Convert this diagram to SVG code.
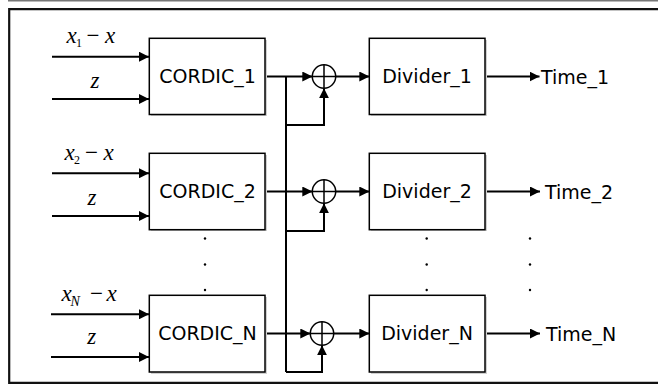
<svg xmlns="http://www.w3.org/2000/svg" width="658" height="385" viewBox="0 0 658 385">
<defs>
<marker id="arr" viewBox="0 0 10 10" refX="10" refY="5" markerWidth="10" markerHeight="10" markerUnits="userSpaceOnUse" orient="auto">
<path d="M0,0 L10,5 L0,10 z" fill="#000"/>
</marker>
<style>
.box{fill:#fff;stroke:#000;stroke-width:1.5}
.sh{fill:#d0d0d0;stroke:none}
.lbl{font-family:"DejaVu Sans",sans-serif;font-size:19px;fill:#000}
.mth{font-family:"Liberation Serif","Times New Roman",serif;font-size:23px;fill:#000}
.it{font-style:italic}
.ln{fill:none;stroke:#000;stroke-width:2}
.ar{fill:none;stroke:#000;stroke-width:2;marker-end:url(#arr)}
.sum{fill:#fff;stroke:#000;stroke-width:1.5}
.frame{fill:none;stroke:#111;stroke-width:2.2}
.dot{fill:#000}
</style>
</defs>
<rect x="0" y="0" width="658" height="385" fill="#fff"/>
<line x1="8" y1="0.7" x2="658" y2="0.7" stroke="#777" stroke-width="1.5"/>
<path class="frame" d="M658,9.2 H9.2 V382.8 H658"/>

<g id="connectors">
<line class="ar" x1="52" y1="56.7" x2="149" y2="56.7"/>
<line class="ar" x1="52" y1="99" x2="149" y2="99"/>
<line class="ar" x1="52" y1="173.3" x2="149" y2="173.3"/>
<line class="ar" x1="52" y1="216" x2="149" y2="216"/>
<line class="ar" x1="51" y1="314.3" x2="149" y2="314.3"/>
<line class="ar" x1="51" y1="357" x2="149" y2="357"/>

<line class="ar" x1="265" y1="76.5" x2="312.3" y2="76.5"/>
<line class="ar" x1="265" y1="191.5" x2="312.3" y2="191.5"/>
<line class="ar" x1="265" y1="333.5" x2="310.3" y2="333.5"/>

<line class="ln" x1="286" y1="76.5" x2="286" y2="372"/>
<path class="ar" d="M286,125 H324 V88.2"/>
<path class="ar" d="M286,231 H324 V203.2"/>
<path class="ar" d="M286,372 H322 V345.2"/>

<line class="ar" x1="335.7" y1="76.5" x2="369.3" y2="76.5"/>
<line class="ar" x1="335.7" y1="191.5" x2="369.3" y2="191.5"/>
<line class="ar" x1="333.7" y1="333.5" x2="369.3" y2="333.5"/>

<line class="ar" x1="485" y1="76.5" x2="539.5" y2="76.5"/>
<line class="ar" x1="485" y1="191.5" x2="540" y2="191.5"/>
<line class="ar" x1="485" y1="333.5" x2="540" y2="333.5"/>
</g>

<g id="labels-in">
<text class="mth" y="43.3"><tspan class="it" x="66.5">x</tspan><tspan font-size="12" x="76" dy="4">1</tspan><tspan x="86.5" dy="-4">−</tspan><tspan class="it" x="105">x</tspan></text>
<text class="mth it" x="95" y="87.5" text-anchor="middle">z</text>
<text class="mth" y="160"><tspan class="it" x="64.5">x</tspan><tspan font-size="12" x="74" dy="4">2</tspan><tspan x="85" dy="-4">−</tspan><tspan class="it" x="103.5">x</tspan></text>
<text class="mth it" x="92" y="204.5" text-anchor="middle">z</text>
<text class="mth" y="300.5"><tspan class="it" x="61.5">x</tspan><tspan class="it" font-size="14" x="70.5" dy="5">N</tspan><tspan x="90" dy="-5">−</tspan><tspan class="it" x="106.5">x</tspan></text>
<text class="mth it" x="91.7" y="343.8" text-anchor="middle">z</text>
</g>

<g id="cordic1">
<rect class="sh" x="151" y="40" width="116" height="76"/>
<rect class="box" x="149.3" y="38.3" width="115.7" height="76.2"/>
<text class="lbl" x="207.5" y="83.4" text-anchor="middle">CORDIC_1</text>
</g>
<g id="cordic2">
<rect class="sh" x="151" y="155" width="116" height="76"/>
<rect class="box" x="149.3" y="153.3" width="115.7" height="76.4"/>
<text class="lbl" x="207.5" y="198.4" text-anchor="middle">CORDIC_2</text>
</g>
<g id="cordicN">
<rect class="sh" x="151" y="297" width="116" height="77"/>
<rect class="box" x="149.3" y="295.3" width="115.7" height="76.7"/>
<text class="lbl" x="207.5" y="340.4" text-anchor="middle">CORDIC_N</text>
</g>

<g id="sum1">
<circle class="sum" cx="324" cy="76.5" r="11.7"/>
<path class="ln" style="stroke-width:1.5" d="M312.3,76.5 H335.7 M324,64.8 V88.2"/>
</g>
<g id="sum2">
<circle class="sum" cx="324" cy="191.5" r="11.7"/>
<path class="ln" style="stroke-width:1.5" d="M312.3,191.5 H335.7 M324,179.8 V203.2"/>
</g>
<g id="sumN">
<circle class="sum" cx="322" cy="333.5" r="11.7"/>
<path class="ln" style="stroke-width:1.5" d="M310.3,333.5 H333.7 M322,321.8 V345.2"/>
</g>

<g id="divider1">
<rect class="sh" x="371" y="40" width="116" height="76"/>
<rect class="box" x="369.3" y="38.3" width="115.7" height="76.2"/>
<text class="lbl" x="427" y="83.4" text-anchor="middle">Divider_1</text>
</g>
<g id="divider2">
<rect class="sh" x="371" y="155" width="116" height="76"/>
<rect class="box" x="369.3" y="153.3" width="115.7" height="76.4"/>
<text class="lbl" x="427" y="198.4" text-anchor="middle">Divider_2</text>
</g>
<g id="dividerN">
<rect class="sh" x="371" y="297" width="116" height="77"/>
<rect class="box" x="369.3" y="295.3" width="115.7" height="76.7"/>
<text class="lbl" x="427" y="340.4" text-anchor="middle">Divider_N</text>
</g>

<g id="time1"><text class="lbl" x="541" y="84">Time_1</text></g>
<g id="time2"><text class="lbl" x="545" y="199">Time_2</text></g>
<g id="timeN"><text class="lbl" x="546" y="341">Time_N</text></g>

<g id="dots">
<circle class="dot" cx="205" cy="238.5" r="1.2"/>
<circle class="dot" cx="205" cy="264.5" r="1.2"/>
<circle class="dot" cx="205" cy="290" r="1.2"/>
<circle class="dot" cx="426.7" cy="238.5" r="1.2"/>
<circle class="dot" cx="426.7" cy="264.5" r="1.2"/>
<circle class="dot" cx="426.7" cy="290" r="1.2"/>
<circle class="dot" cx="530" cy="238.5" r="1.2"/>
<circle class="dot" cx="530" cy="264.5" r="1.2"/>
<circle class="dot" cx="530" cy="290" r="1.2"/>
</g>
</svg>
